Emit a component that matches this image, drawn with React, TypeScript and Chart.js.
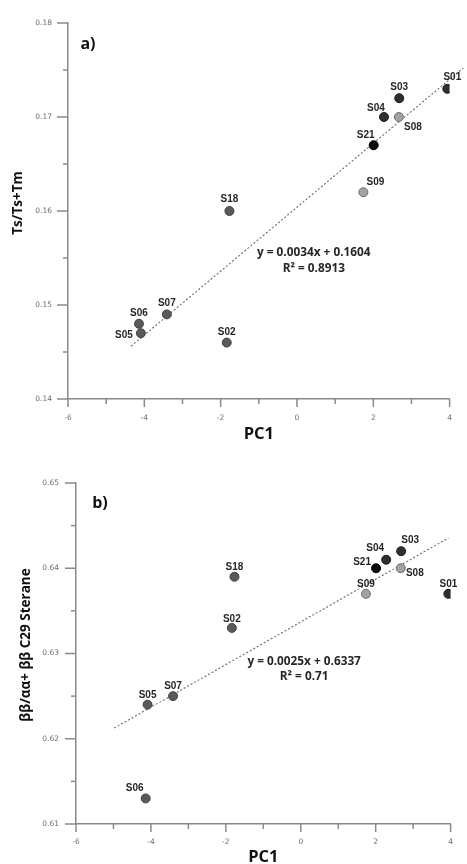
import { useEffect, useRef } from 'react';
import { Chart, registerables } from 'chart.js';

Chart.register(...registerables);

// ---- data ---------------------------------------------------------------
const SAMPLES = ['S01', 'S03', 'S04', 'S08', 'S21', 'S09', 'S18', 'S07', 'S06', 'S05', 'S02'];
const PC1 = [3.94, 2.68, 2.28, 2.67, 2.01, 1.74, -1.77, -3.41, -4.14, -4.09, -1.84];
const TS_TSTM = [0.173, 0.172, 0.170, 0.170, 0.167, 0.162, 0.160, 0.149, 0.148, 0.147, 0.146];
const STERANE = [0.637, 0.642, 0.641, 0.640, 0.640, 0.637, 0.639, 0.625, 0.613, 0.624, 0.633];
const TONE = ['dark', 'dark', 'dark', 'light', 'black', 'light', 'mid', 'mid', 'mid', 'mid', 'mid'];

const FIT_A_SLOPE = 0.0034;
const FIT_A_INTERCEPT = 0.1604;
const FIT_A_R2 = '0.8913';
const FIT_A_SPAN = [-4.35, 4.36];

const FIT_B_SLOPE = 0.0025;
const FIT_B_INTERCEPT = 0.6337;
const FIT_B_R2 = '0.71';
const FIT_B_SPAN = [-4.98, 3.94];

const X_RANGE = [-6, 4];
const Y_RANGE_A = [0.14, 0.18];
const Y_RANGE_B = [0.61, 0.65];

// ---- styling ------------------------------------------------------------
const TONE_FILL: Record<string, string> = { dark: '#2f2f2f', black: '#0a0a0a', light: '#a2a2a2', mid: '#5a5a5a' };
const TONE_EDGE: Record<string, string> = { dark: '#1c1c1c', black: '#000000', light: '#6c6c6c', mid: '#434343' };
const AXIS_COLOR = '#8a8a8a';
const TEXT_DARK = '#262626';
const TITLE_FONT = '"Open Sans", Lato, sans-serif';
const LABEL_FONT = '"Liberation Sans", Arial, sans-serif';
const TICK_FONT = '"DejaVu Sans", sans-serif';

// label offsets (px) from each marker, per panel
const LABEL_OFFSET_A: Record<string, [number, number]> = {
  S01: [5, -12], S03: [0, -11], S04: [-8, -9], S08: [14, 10], S21: [-8, -10], S09: [12, -10],
  S18: [0, -12], S07: [0, -11], S06: [0, -11], S05: [-17, 2], S02: [0, -10],
};
const LABEL_OFFSET_B: Record<string, [number, number]> = {
  S01: [0, -10], S03: [9, -11], S04: [-11, -11], S08: [14, 5], S21: [-14, -6], S09: [0, -10],
  S18: [0, -10], S07: [0, -10], S06: [-11, -10], S05: [0, -9], S02: [0, -9],
};

type Panel = {
  key: string;
  yValues: number[];
  yRange: number[];
  slope: number;
  intercept: number;
  r2: string;
  span: number[];
  eqAt: [number, number];
  r2At: [number, number];
  letter: string;
  letterAt: [number, number];
  yTitle: string;
  yTitleAt: [number, number];
  xTitleY: number;
  offsets: Record<string, [number, number]>;
  height: number;
  padTop: number;
  padRight: number;
  yAxisWidth: number;
  xAxisHeight: number;
  yTickPad: number;
  xTickPad: number;
};

const PANEL_A: Panel = {
  key: 'a',
  yValues: TS_TSTM,
  yRange: Y_RANGE_A,
  slope: FIT_A_SLOPE,
  intercept: FIT_A_INTERCEPT,
  r2: FIT_A_R2,
  span: FIT_A_SPAN,
  eqAt: [0.44, 0.1556],
  r2At: [0.44, 0.1539],
  letter: 'a)',
  letterAt: [20, 21],
  yTitle: 'Ts/Ts+Tm',
  yTitleAt: [18, 203],
  xTitleY: 434,
  offsets: LABEL_OFFSET_A,
  height: 440,
  padTop: 23,
  padRight: 14,
  yAxisWidth: 68,
  xAxisHeight: 41,
  yTickPad: 16,
  xTickPad: 15,
};

const PANEL_B: Panel = {
  key: 'b',
  yValues: STERANE,
  yRange: Y_RANGE_B,
  slope: FIT_B_SLOPE,
  intercept: FIT_B_INTERCEPT,
  r2: FIT_B_R2,
  span: FIT_B_SPAN,
  eqAt: [0.09, 0.629],
  r2At: [0.09, 0.6273],
  letter: 'b)',
  letterAt: [24, 20],
  yTitle: 'ββ/αα+ ββ C29 Sterane',
  yTitleAt: [26, 205],
  xTitleY: 417,
  offsets: LABEL_OFFSET_B,
  height: 424,
  padTop: 43,
  padRight: 9,
  yAxisWidth: 76,
  xAxisHeight: 40,
  yTickPad: 17,
  xTickPad: 14,
};

const isWhole = (v: number, scale: number) => Math.abs(v * scale - Math.round(v * scale)) < 1e-6;

// tick marks, sample labels, fit equation and titles
const panelDecor = {
  id: 'panelDecor',
  afterDraw(chart: any) {
    const p: Panel = chart.options.plugins.panelDecor.panel;
    const { ctx, chartArea } = chart;
    const xs = chart.scales.x;
    const ys = chart.scales.y;
    ctx.save();

    // tick marks: long on labelled values, short in between
    ctx.strokeStyle = AXIS_COLOR;
    ctx.lineWidth = 1.5;
    ys.ticks.forEach((t: any) => {
      const py = ys.getPixelForValue(t.value);
      const len = isWhole(t.value, 100) ? 11 : 5;
      ctx.beginPath();
      ctx.moveTo(chartArea.left - len, py);
      ctx.lineTo(chartArea.left, py);
      ctx.stroke();
    });
    xs.ticks.forEach((t: any) => {
      const px = xs.getPixelForValue(t.value);
      const len = isWhole(t.value / 2, 1) ? 8 : 5;
      ctx.beginPath();
      ctx.moveTo(px, chartArea.bottom);
      ctx.lineTo(px, chartArea.bottom + len);
      ctx.stroke();
    });

    // sample labels
    const meta = chart.getDatasetMeta(0);
    ctx.fillStyle = TEXT_DARK;
    ctx.font = `bold 10px ${LABEL_FONT}`;
    ctx.textAlign = 'center';
    ctx.textBaseline = 'middle';
    meta.data.forEach((el: any, i: number) => {
      const off = p.offsets[SAMPLES[i]] || [0, -10];
      ctx.fillText(SAMPLES[i], el.x + off[0], el.y + off[1]);
    });

    // fit equation
    ctx.font = `bold 11.8px ${TITLE_FONT}`;
    const sign = p.intercept >= 0 ? '+' : '-';
    ctx.fillText(`y = ${p.slope}x ${sign} ${Math.abs(p.intercept)}`, xs.getPixelForValue(p.eqAt[0]), ys.getPixelForValue(p.eqAt[1]));
    ctx.fillText(`R² = ${p.r2}`, xs.getPixelForValue(p.r2At[0]), ys.getPixelForValue(p.r2At[1]));

    // panel letter
    ctx.fillStyle = '#111';
    ctx.font = `bold 16px ${TITLE_FONT}`;
    ctx.fillText(p.letter, chartArea.left + p.letterAt[0], chartArea.top + p.letterAt[1]);

    // axis titles
    ctx.font = `bold 16.5px ${TITLE_FONT}`;
    ctx.fillText('PC1', (chartArea.left + chartArea.right) / 2, p.xTitleY);
    ctx.save();
    ctx.translate(p.yTitleAt[0], p.yTitleAt[1]);
    ctx.rotate(-Math.PI / 2);
    ctx.font = `bold 13.5px ${TITLE_FONT}`;
    ctx.fillText(p.yTitle, 0, 0);
    ctx.restore();

    ctx.restore();
  },
};

function buildConfig(p: Panel): any {
  const points = PC1.map((x, i) => ({ x, y: p.yValues[i] }));
  const fit = p.span.map((x) => ({ x, y: p.slope * x + p.intercept }));
  return {
    type: 'scatter',
    data: {
      datasets: [
        {
          data: points,
          pointRadius: 4.5,
          pointHoverRadius: 4.5,
          pointBackgroundColor: TONE.map((t) => TONE_FILL[t]),
          pointBorderColor: TONE.map((t) => TONE_EDGE[t]),
          pointBorderWidth: 1,
        },
        {
          type: 'line',
          data: fit,
          showLine: true,
          pointRadius: 0,
          borderColor: '#6a6a6a',
          borderWidth: 1.1,
          borderDash: [2, 2],
          fill: false,
          clip: false,
        },
      ],
    },
    options: {
      animation: false,
      responsive: false,
      events: [],
      layout: {
        autoPadding: false,
        padding: { top: p.padTop, right: p.padRight, left: 0, bottom: 0 },
      },
      plugins: {
        legend: { display: false },
        tooltip: { enabled: false },
        panelDecor: { panel: p },
      },
      scales: {
        x: {
          type: 'linear',
          min: X_RANGE[0],
          max: X_RANGE[1],
          grid: { display: false, drawTicks: false },
          border: { display: true, color: AXIS_COLOR, width: 1.5 },
          ticks: {
            stepSize: 1,
            autoSkip: false,
            maxRotation: 0,
            padding: p.xTickPad,
            color: '#6e6e6e',
            font: { family: TICK_FONT, size: 7.5 },
            callback: (v: number) => (isWhole(v / 2, 1) ? String(Math.round(v)) : ''),
          },
          afterFit: (s: any) => {
            s.height = p.xAxisHeight;
          },
        },
        y: {
          type: 'linear',
          min: p.yRange[0],
          max: p.yRange[1],
          grid: { display: false, drawTicks: false },
          border: { display: true, color: AXIS_COLOR, width: 1.5 },
          ticks: {
            stepSize: 0.005,
            autoSkip: false,
            padding: p.yTickPad,
            color: '#6e6e6e',
            font: { family: TICK_FONT, size: 7.5 },
            callback: (v: number) => (isWhole(v, 100) ? (Math.round(v * 100) / 100).toFixed(2) : ''),
          },
          afterFit: (s: any) => {
            s.width = p.yAxisWidth;
          },
        },
      },
    },
    plugins: [panelDecor],
  };
}

function PanelChart({ panel }: { panel: Panel }) {
  const ref = useRef<HTMLCanvasElement>(null);
  useEffect(() => {
    if (!ref.current) return;
    const chart = new Chart(ref.current, buildConfig(panel));
    return () => chart.destroy();
  }, [panel]);
  return (
    <canvas
      ref={ref}
      width={467}
      height={panel.height}
      style={{ display: 'block', width: 467, height: panel.height }}
    />
  );
}

export default function App() {
  return (
    <div style={{ position: 'absolute', left: 0, top: 0, width: 467, height: 864, background: '#fff' }}>
      <PanelChart panel={PANEL_A} />
      <PanelChart panel={PANEL_B} />
    </div>
  );
}
